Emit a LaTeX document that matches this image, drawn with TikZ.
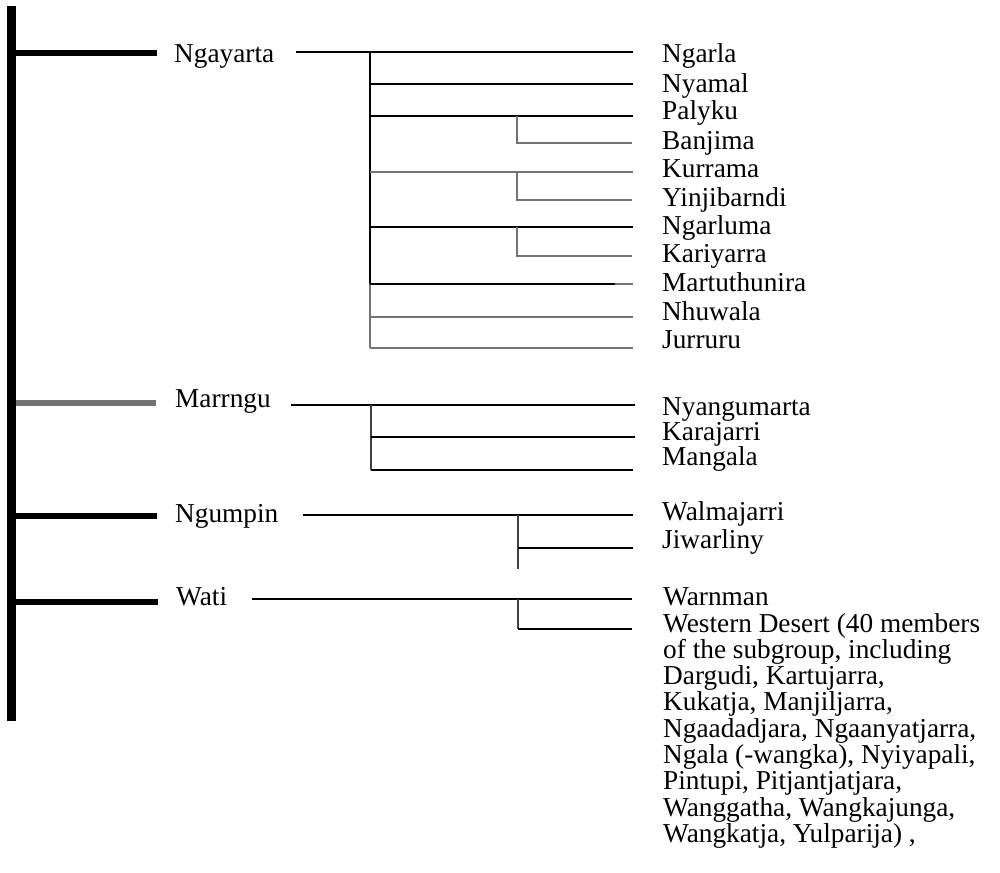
\documentclass[tikz,border=0pt]{standalone}
\usepackage{fontspec}
\setmainfont{Liberation Serif}
\begin{document}
\begin{tikzpicture}[x=1pt,y=-1pt,
  lbl/.style={anchor=base west,inner sep=0pt,font=\fontsize{27.3}{26.3}\selectfont},
  trunk/.style={line width=9pt,black},
  branch/.style={line width=6pt,black},
  branchgray/.style={line width=6pt,color=black!55},
  edge/.style={line width=2.6pt,black},
  edgegray/.style={line width=2.3pt,color=black!55},
  vlink/.style={line width=2.2pt,color=black!75}]
\useasboundingbox (0,0) rectangle (1000,872);
\fill[white] (0,0) rectangle (1000,872);

% trunk
\coordinate (rootT) at (11.5,6);
\coordinate (rootB) at (11.5,721);
\draw[trunk] (rootT) -- (rootB);

% subgroup labels
\node[lbl] (ngayarta) at (174,63) {Ngayarta};
\node[lbl] (marrngu) at (175,407) {Marrngu};
\node[lbl] (ngumpin) at (175,522) {Ngumpin};
\node[lbl] (wati) at (176,605) {Wati};

% branch stubs from trunk
\coordinate (b1a) at (16,53);  \coordinate (b1b) at (157,53);
\coordinate (b2a) at (16,403); \coordinate (b2b) at (156,403);
\coordinate (b3a) at (16,516); \coordinate (b3b) at (157,516);
\coordinate (b4a) at (16,602); \coordinate (b4b) at (158,602);
\draw[branch] (b1a) -- (b1b);
\draw[branchgray] (b2a) -- (b2b);
\draw[branch] (b3a) -- (b3b);
\draw[branch] (b4a) -- (b4b);

% language labels (Ngayarta)
\node[lbl] (ngarla) at (662,63) {Ngarla};
\node[lbl] (nyamal) at (662,93) {Nyamal};
\node[lbl] (palyku) at (662,120) {Palyku};
\node[lbl] (banjima) at (662,149) {Banjima};
\node[lbl] (kurrama) at (662,177) {Kurrama};
\node[lbl] (yinji) at (662,206) {Yinjibarndi};
\node[lbl] (ngarluma) at (662,234) {Ngarluma};
\node[lbl] (kariyarra) at (662,262) {Kariyarra};
\node[lbl] (martu) at (662,291) {Martuthunira};
\node[lbl] (nhuwala) at (662,320) {Nhuwala};
\node[lbl] (jurruru) at (662,348) {Jurruru};

% Ngayarta tree
\coordinate (g0) at (296,52);
\coordinate (gv1) at (370,52);
\coordinate (gv9) at (370,284);
\coordinate (gv11) at (370,348);
\coordinate (e1) at (633,52);
\draw[edge] (g0) -- (e1);
\draw[edge] (gv1) -- (gv9);
\draw[edgegray] (gv9) -- (gv11);
\draw[edge] (370,84) coordinate (gv2) -- (633,84) coordinate (e2);
\draw[edge] (370,116) coordinate (gv3) -- (633,116) coordinate (e3);
\draw[edgegray] (517,116) coordinate (s1a) -- (517,143) coordinate (s1b) -- (632,143) coordinate (e4);
\draw[edgegray] (370,172) coordinate (gv5) -- (633,172) coordinate (e5);
\draw[edgegray] (517,172) coordinate (s2a) -- (517,200) coordinate (s2b) -- (632,200) coordinate (e6);
\draw[edge] (370,227) coordinate (gv7) -- (633,227) coordinate (e7);
\draw[edgegray] (517,227) coordinate (s3a) -- (517,256) coordinate (s3b) -- (632,256) coordinate (e8);
\coordinate (m1) at (615,284);
\draw[edge] (gv9) -- (m1);
\draw[edgegray] (m1) -- (633,284) coordinate (e9);
\draw[edgegray] (370,317) coordinate (gv10) -- (633,317) coordinate (e10);
\draw[edgegray] (gv11) -- (633,348) coordinate (e11);

% Marrngu tree
\node[lbl] (nyangu) at (662,415) {Nyangumarta};
\node[lbl] (karajarri) at (662,440) {Karajarri};
\node[lbl] (mangala) at (662,465) {Mangala};
\coordinate (r0) at (291,405);
\coordinate (rv1) at (371,405);
\coordinate (rv3) at (371,470);
\draw[edge] (r0) -- (635,405) coordinate (f1);
\draw[vlink] (rv1) -- (rv3);
\draw[edge] (371,437) coordinate (rv2) -- (635,437) coordinate (f2);
\draw[edge] (rv3) -- (633,470) coordinate (f3);

% Ngumpin tree
\node[lbl] (walma) at (662,520) {Walmajarri};
\node[lbl] (jiwar) at (662,548) {Jiwarliny};
\coordinate (p0) at (303,515);
\draw[edge] (p0) -- (633,515) coordinate (h1);
\draw[vlink] (518,515) coordinate (pv1) -- (518,569) coordinate (pv3);
\draw[edge] (518,548) coordinate (pv2) -- (633,548) coordinate (h2);

% Wati tree
\node[lbl] (warnman) at (663,605) {Warnman};
\node[lbl,align=left] (wdesert) at (663,842.4) {Western Desert (40 members\\of the subgroup, including\\Dargudi, Kartujarra,\\Kukatja, Manjiljarra,\\Ngaadadjara, Ngaanyatjarra,\\Ngala (-wangka), Nyiyapali,\\Pintupi, Pitjantjatjara,\\Wanggatha, Wangkajunga,\\Wangkatja, Yulparija) ,};
\coordinate (w0) at (252,599);
\draw[edge] (w0) -- (632,599) coordinate (k1);
\draw[vlink] (518,599) coordinate (wv1) -- (518,629) coordinate (wv2);
\draw[edge] (wv2) -- (632,629) coordinate (k2);
\end{tikzpicture}
\end{document}
